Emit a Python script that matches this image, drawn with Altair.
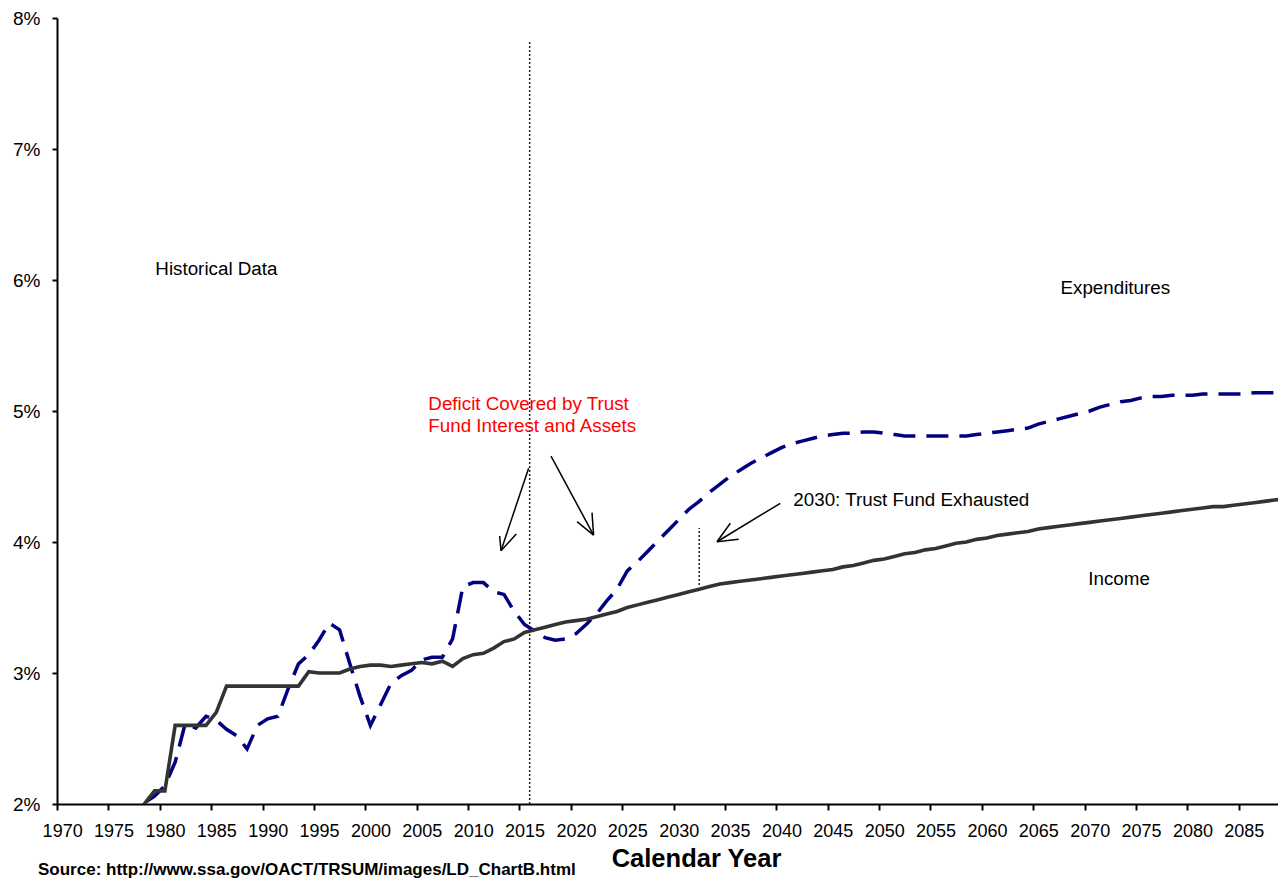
import altair as alt
import pandas as pd

FONT = "Liberation Sans, Arial, sans-serif"

years = list(range(1976, 2090))

income = [
    1.80, 1.80, 2.00, 2.10, 2.10, 2.60, 2.60, 2.60, 2.60, 2.70,
    2.90, 2.90, 2.90, 2.90, 2.90, 2.90, 2.90, 2.90, 3.01, 3.00,
    3.00, 3.00, 3.03, 3.05, 3.06, 3.06, 3.05, 3.06, 3.07, 3.08,
    3.07, 3.09, 3.05, 3.11, 3.14, 3.15, 3.19, 3.24, 3.26, 3.31,
    3.33, 3.35,
    3.37, 3.39, 3.40, 3.41, 3.43, 3.45, 3.47, 3.50, 3.52, 3.54,
    3.56, 3.58, 3.60, 3.62, 3.64, 3.66, 3.68, 3.69, 3.70, 3.71,
    3.72, 3.73, 3.74, 3.75, 3.76, 3.77, 3.78, 3.79, 3.81, 3.82,
    3.84, 3.86, 3.87, 3.89, 3.91, 3.92, 3.94, 3.95, 3.97, 3.99,
    4.00, 4.02, 4.03, 4.05, 4.06, 4.07, 4.08, 4.10, 4.11, 4.12,
    4.13, 4.14, 4.15, 4.16, 4.17, 4.18, 4.19, 4.20, 4.21, 4.22,
    4.23, 4.24, 4.25, 4.26, 4.27, 4.27, 4.28, 4.29, 4.30, 4.31,
    4.32, 4.33,
]

expenditures = [
    1.85, 1.97, 2.01, 2.06, 2.14, 2.32, 2.62, 2.58, 2.67, 2.64,
    2.57, 2.52, 2.42, 2.60, 2.65, 2.67, 2.88, 3.07, 3.14, 3.25,
    3.38, 3.33, 3.07, 2.82, 2.60, 2.76, 2.92, 2.98, 3.02, 3.10,
    3.12, 3.12, 3.26, 3.66, 3.69, 3.69, 3.62, 3.60, 3.47, 3.37,
    3.32, 3.27,
    3.25, 3.26, 3.30, 3.37, 3.45, 3.55, 3.64, 3.78, 3.85, 3.93,
    4.01, 4.09, 4.17, 4.25, 4.31, 4.38, 4.44, 4.50, 4.55, 4.60,
    4.64, 4.68, 4.72, 4.75, 4.77, 4.79, 4.81, 4.82, 4.83, 4.83,
    4.84, 4.84, 4.83, 4.82, 4.81, 4.81, 4.81, 4.81, 4.81, 4.81,
    4.81, 4.82, 4.83, 4.84, 4.85, 4.86, 4.87, 4.90, 4.92, 4.94,
    4.96, 4.98, 5.00, 5.03, 5.05, 5.07, 5.08, 5.10, 5.11, 5.11,
    5.12, 5.12, 5.12, 5.13, 5.13, 5.13, 5.13, 5.13, 5.14, 5.14,
    5.14, 5.14,
]

# tick labels (every 5th year) and y ticks
x_label_years = list(range(1970, 2090, 5))
y_ticks = [2, 3, 4, 5, 6, 7, 8]

# annotation texts (year, percent)
note_texts = ["Historical Data", "Expenditures", "Income", "2030: Trust Fund Exhausted"]
note_year = [1979.07, 2067.16, 2069.87, 2041.16]
note_val = [6.084, 5.939, 3.718, 4.321]

red_texts = ["Deficit Covered by Trust", "Fund Interest and Assets"]
red_year = [2005.64, 2005.64]
red_val = [5.053, 4.885]

# dotted markers
dot_year = [2015.5, 2032.0]
dot_lo = [2.0, 3.672]
dot_hi = [7.83, 4.107]

# arrow segments (shaft + two head strokes)
arr_x1 = [2015.40, 2012.71, 2012.71, 2017.58, 2021.72, 2021.72, 2039.89, 2033.73, 2033.73]
arr_y1 = [4.563, 3.934, 3.934, 4.656, 4.053, 4.053, 4.295, 4.002, 4.002]
arr_x2 = [2012.71, 2012.58, 2014.20, 2021.72, 2020.11, 2021.57, 2033.73, 2035.03, 2035.84]
arr_y2 = [3.934, 4.046, 4.061, 4.053, 4.155, 4.224, 4.002, 4.143, 4.021]

source = "Source: http://www.ssa.gov/OACT/TRSUM/images/LD_ChartB.html"

x_scale = alt.Scale(domain=[1969.5, 2088.33], nice=False, zero=False)
y_scale = alt.Scale(domain=[2, 8], nice=False, zero=False)

tick_vals = [y - 0.5 for y in x_label_years]

x_axis = alt.Axis(
    values=tick_vals,
    labelExpr="format(datum.value + 0.5, 'd')",
    labelOffset=5.14,
    grid=False,
    domainColor="black", domainWidth=2,
    tickColor="black", tickWidth=2, tickSize=6,
    labelFont=FONT, labelFontSize=18, labelColor="black", labelPadding=12,
    labelFlush=False, labelOverlap=False,
    title="Calendar Year", titleFont=FONT, titleFontSize=25.5, titleFontWeight="bold",
    titleColor="black", titleX=639, titleY=54, titleBaseline="middle",
)
y_axis = alt.Axis(
    values=y_ticks,
    labelExpr="datum.value + '%'",
    grid=False,
    domainColor="black", domainWidth=2,
    tickColor="black", tickWidth=2, tickSize=5,
    labelFont=FONT, labelFontSize=19, labelColor="black", labelPadding=12,
    labelFlush=False, labelOverlap=False,
    title=None,
)

df = pd.DataFrame({"year": years, "income": income, "exp": expenditures})

base = alt.Chart(df)

exp_line = base.mark_line(color="#000080", strokeWidth=3.5, strokeDash=[22, 11], clip=True).encode(
    x=alt.X("year:Q", scale=x_scale, axis=x_axis),
    y=alt.Y("exp:Q", scale=y_scale, axis=y_axis),
)
inc_line = base.mark_line(color="#333333", strokeWidth=3.6, clip=True).encode(
    x=alt.X("year:Q", scale=x_scale),
    y=alt.Y("income:Q", scale=y_scale),
)

dots = alt.Chart(pd.DataFrame({"x": dot_year, "lo": dot_lo, "hi": dot_hi})).mark_rule(
    color="#222222", strokeWidth=1.5, strokeDash=[2, 2]
).encode(
    x=alt.X("x:Q", scale=x_scale), y=alt.Y("lo:Q", scale=y_scale), y2="hi:Q"
)

arrows = alt.Chart(pd.DataFrame({"x1": arr_x1, "y1": arr_y1, "x2": arr_x2, "y2": arr_y2})).mark_rule(
    color="black", strokeWidth=1.5
).encode(
    x=alt.X("x1:Q", scale=x_scale), y=alt.Y("y1:Q", scale=y_scale), x2="x2:Q", y2="y2:Q"
)

notes = alt.Chart(pd.DataFrame({"t": note_texts, "x": note_year, "y": note_val})).mark_text(
    font=FONT, fontSize=18.8, color="black", align="left", baseline="middle"
).encode(x=alt.X("x:Q", scale=x_scale), y=alt.Y("y:Q", scale=y_scale), text="t:N")

red = alt.Chart(pd.DataFrame({"t": red_texts, "x": red_year, "y": red_val})).mark_text(
    font=FONT, fontSize=18.8, color="#ff0000", align="left", baseline="middle"
).encode(x=alt.X("x:Q", scale=x_scale), y=alt.Y("y:Q", scale=y_scale), text="t:N")

src = alt.Chart(pd.DataFrame({"t": [source]})).mark_text(
    font=FONT, fontSize=17, fontWeight="bold", color="black", align="left", baseline="alphabetic"
).encode(x=alt.value(-19), y=alt.value(857), text="t:N")

chart = alt.layer(exp_line, inc_line, dots, arrows, notes, red, src).properties(
    width=1221, height=786,
    autosize=alt.AutoSizeParams(type="none"),
    padding={"left": 49, "top": 10, "right": 0, "bottom": 75},
    background="white",
).configure_view(strokeWidth=0)

chart.save("out.html", embed_options={"renderer": "svg", "actions": False})
